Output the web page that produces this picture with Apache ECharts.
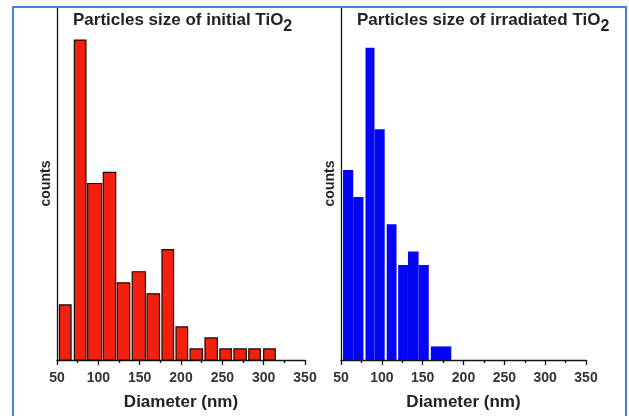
<!DOCTYPE html>
<html>
<head>
<meta charset="utf-8">
<script src="https://cdn.jsdelivr.net/npm/echarts@6/dist/echarts.min.js"></script>
<style>
html,body{margin:0;padding:0;background:#fff;}
#c{width:629px;height:416px;}
</style>
</head>
<body>
<div id="c"></div>
<script>
// Left panel: initial TiO2 (bin edges in nm, counts)
var leftBinStart = [53, 71, 87, 106, 123, 141, 159, 177, 194, 211, 229, 247, 264, 282, 300];
var leftBinEnd   = [67, 85, 104, 121, 138, 157, 174, 191, 208, 226, 244, 261, 279, 296, 314];
var leftCounts   = [5, 29, 16, 17, 7, 8, 6, 10, 3, 1, 2, 1, 1, 1, 1];

// Right panel: irradiated TiO2
var rightBinStart = [52.5, 65, 80, 91, 106, 120, 132, 145, 160];
var rightBinEnd   = [65, 77.5, 91, 103.5, 118, 132, 145, 157.5, 185];
var rightCounts   = [14, 12, 23, 17, 10, 7, 8, 7, 1];

var xTicks = [50, 100, 150, 200, 250, 300, 350];
var leftTitle = 'Particles size of initial TiO';
var rightTitle = 'Particles size of irradiated TiO';
var xName = 'Diameter (nm)';
var yName = 'counts';

function mk(starts, ends, counts) {
  return starts.map(function (s, i) { return [s, ends[i], counts[i]]; });
}

function renderer(fill, stroke, lw) {
  return function (params, api) {
    var p0 = api.coord([api.value(0), api.value(2)]);
    var p1 = api.coord([api.value(1), 0]);
    return {
      type: 'rect',
      shape: { x: p0[0], y: p0[1], width: p1[0] - p0[0], height: p1[1] - p0[1] },
      style: { fill: fill, stroke: stroke, lineWidth: lw }
    };
  };
}

var font = 'Liberation Sans, Arial, sans-serif';

function xAxis(gi) {
  return {
    type: 'value', gridIndex: gi, min: xTicks[0], max: xTicks[xTicks.length - 1], interval: 50,
    name: xName, nameLocation: 'middle', nameGap: 34,
    nameTextStyle: { fontFamily: font, fontWeight: 'bold', fontSize: 17, color: '#222' },
    axisLine: { show: true, onZero: false, lineStyle: { color: '#111', width: 1.3 } },
    axisTick: { show: true, length: 5, inside: false, lineStyle: { color: '#111', width: 1.3 } },
    minorTick: { show: true, splitNumber: 2, length: 3, lineStyle: { color: '#111', width: 1.3 } },
    splitLine: { show: false },
    axisLabel: { margin: 11, fontFamily: font, fontWeight: 'bold', fontSize: 14, color: '#333' }
  };
}
function yAxis(gi, max) {
  return {
    type: 'value', gridIndex: gi, min: 0, max: max,
    name: yName, nameLocation: 'middle', nameGap: 4,
    nameTextStyle: { fontFamily: font, fontWeight: 'bold', fontSize: 14, color: '#222' },
    axisLine: { show: true, lineStyle: { color: '#111', width: 1.3 } },
    axisTick: { show: false }, axisLabel: { show: false }, splitLine: { show: false }
  };
}

var titleRich = {
  a: { fontFamily: font, fontWeight: 'bold', fontSize: 17, color: '#222', lineHeight: 20, padding: [0, 0, 6, 0], verticalAlign: 'bottom' },
  s: { fontFamily: font, fontWeight: 'bold', fontSize: 16, color: '#222', lineHeight: 20, verticalAlign: 'bottom' }
};

var chart = echarts.init(document.getElementById('c'), null, { renderer: 'canvas' });
chart.setOption({
  animation: false,
  backgroundColor: '#ffffff',
  title: [
    { left: 68, top: 10, text: '{a|' + leftTitle + '}{s|2}', textStyle: { rich: titleRich } },
    { left: 352, top: 10, text: '{a|' + rightTitle + '}{s|2}', textStyle: { rich: titleRich } }
  ],
  grid: [
    { left: 57, top: 7, width: 248, height: 356 },
    { left: 341, top: 7, width: 245, height: 356 }
  ],
  xAxis: [xAxis(0), xAxis(1)],
  yAxis: [yAxis(0, 32), yAxis(1, 26)],
  graphic: [{
    type: 'rect', silent: true, z: 100,
    shape: { x: 13, y: 7, width: 613, height: 420 },
    style: { fill: 'none', stroke: '#4283d6', lineWidth: 2 }
  }],
  series: [
    { type: 'custom', xAxisIndex: 0, yAxisIndex: 0, renderItem: renderer('#f2200e', '#1a0a05', 1.2),
      encode: { x: [0, 1], y: 2 }, data: mk(leftBinStart, leftBinEnd, leftCounts) },
    { type: 'custom', xAxisIndex: 1, yAxisIndex: 1, renderItem: renderer('#0505f5', null, 0),
      encode: { x: [0, 1], y: 2 }, data: mk(rightBinStart, rightBinEnd, rightCounts) }
  ]
});
</script>
</body>
</html>
